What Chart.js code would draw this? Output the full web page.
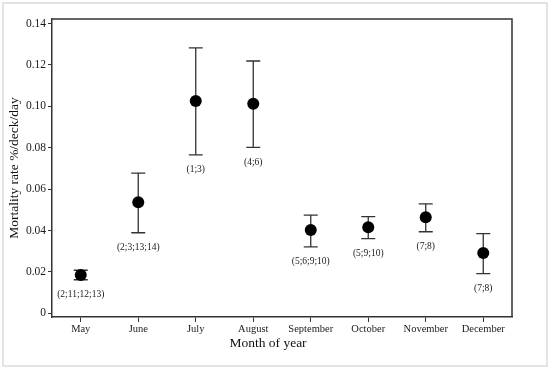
<!DOCTYPE html>
<html>
<head>
<meta charset="utf-8">
<script src="https://cdn.jsdelivr.net/npm/chart.js@4"></script>
<style>
  html, body { margin: 0; padding: 0; background: #fff; }
  #wrap { position: relative; width: 550px; height: 369px; }
  #frame { position: absolute; left: 2px; top: 2px; width: 542px; height: 361px; border: 2px solid #e4e4e4; pointer-events: none; }
</style>
</head>
<body>
<div id="wrap">
  <canvas id="mortChart" width="550" height="369"></canvas>
  <div id="frame"></div>
</div>
<script>
// Monthly mortality rate with error bars
const months = ["May", "June", "July", "August", "September", "October", "November", "December"];
const means = [0.0185, 0.0537, 0.1026, 0.1012, 0.0402, 0.0416, 0.0464, 0.0291];
const upper = [0.0208, 0.0677, 0.1282, 0.1219, 0.0474, 0.0467, 0.0529, 0.0385];
const lower = [0.0162, 0.0389, 0.0765, 0.0802, 0.0321, 0.0361, 0.0394, 0.0192];
const groups = ["(2;11;12;13)", "(2;3;13;14)", "(1;3)", "(4;6)", "(5;6;9;10)", "(5;9;10)", "(7;8)", "(7;8)"];
const yTicks = [0, 0.02, 0.04, 0.06, 0.08, 0.1, 0.12, 0.14];

const serif = "'Liberation Serif', 'Times New Roman', serif";
const ink = "#333333";

// error bars + labels under each bar, plus top/right frame and x title
const errorBars = {
  id: "errorBars",
  beforeDatasetsDraw(chart) {
    const { ctx, scales } = chart;
    ctx.save();
    ctx.strokeStyle = ink;
    ctx.lineWidth = 1.3;
    months.forEach((m, i) => {
      const x = scales.x.getPixelForValue(i);
      const yHi = scales.y.getPixelForValue(upper[i]);
      const yLo = scales.y.getPixelForValue(lower[i]);
      ctx.beginPath();
      ctx.moveTo(x, yHi);
      ctx.lineTo(x, yLo);
      ctx.moveTo(x - 7, yHi);
      ctx.lineTo(x + 7, yHi);
      ctx.moveTo(x - 7, yLo);
      ctx.lineTo(x + 7, yLo);
      ctx.stroke();
    });
    ctx.restore();
  },
  afterDraw(chart) {
    const { ctx, scales, chartArea } = chart;
    ctx.save();
    ctx.fillStyle = "#1a1a1a";
    ctx.font = "9.5px " + serif;
    ctx.textAlign = "center";
    ctx.textBaseline = "middle";
    groups.forEach((g, i) => {
      const x = scales.x.getPixelForValue(i);
      const yLo = scales.y.getPixelForValue(lower[i]);
      ctx.fillText(g, x, yLo + 15);
    });
    // x axis title, sits a bit left of the plot centre in the original
    ctx.fillStyle = "#111";
    ctx.font = "13.5px " + serif;
    ctx.fillText("Month of year", (chartArea.left + chartArea.right) / 2 - 14, chartArea.bottom + 26);
    ctx.strokeStyle = ink;
    ctx.lineWidth = 1.5;
    ctx.beginPath();
    ctx.moveTo(chartArea.left, chartArea.top);
    ctx.lineTo(chartArea.right, chartArea.top);
    ctx.lineTo(chartArea.right, chartArea.bottom);
    ctx.stroke();
    ctx.restore();
  },
};

const ctx = document.getElementById("mortChart").getContext("2d");
new Chart(ctx, {
  type: "line",
  data: {
    labels: months,
    datasets: [
      {
        label: "Mortality rate",
        data: means,
        showLine: false,
        pointRadius: 6,
        pointHoverRadius: 6,
        pointBackgroundColor: "#000",
        pointBorderColor: "#000",
        pointBorderWidth: 0,
      },
    ],
  },
  options: {
    responsive: false,
    animation: false,
    layout: { padding: { top: 19, right: 38, bottom: 0, left: 0 } },
    plugins: { legend: { display: false }, tooltip: { enabled: false } },
    scales: {
      x: {
        type: "category",
        offset: true,
        afterFit(scale) { scale.height = 52; },
        border: { display: true, color: ink, width: 1.5 },
        grid: { drawOnChartArea: false, drawTicks: true, tickLength: 5, color: ink, offset: false },
        ticks: { color: "#1a1a1a", padding: 1, maxRotation: 0, autoSkip: false, font: { family: serif, size: 10.5 } },
        title: { display: false },
      },
      y: {
        min: -0.0018,
        max: 0.1422,
        afterFit(scale) { scale.width = 52; },
        afterBuildTicks(scale) { scale.ticks = yTicks.map((v) => ({ value: v })); },
        border: { display: true, color: ink, width: 1.5 },
        grid: { drawOnChartArea: false, drawTicks: true, tickLength: 4, color: ink },
        ticks: {
          color: "#1a1a1a",
          padding: 2,
          font: { family: serif, size: 11.5 },
          callback: (v) => (v === 0 ? "0" : v.toFixed(2)),
        },
        title: { display: true, text: "Mortality rate %/deck/day", color: "#111", padding: { top: 6, bottom: 0 }, font: { family: serif, size: 13.5 } },
      },
    },
  },
  plugins: [errorBars],
});
</script>
</body>
</html>
